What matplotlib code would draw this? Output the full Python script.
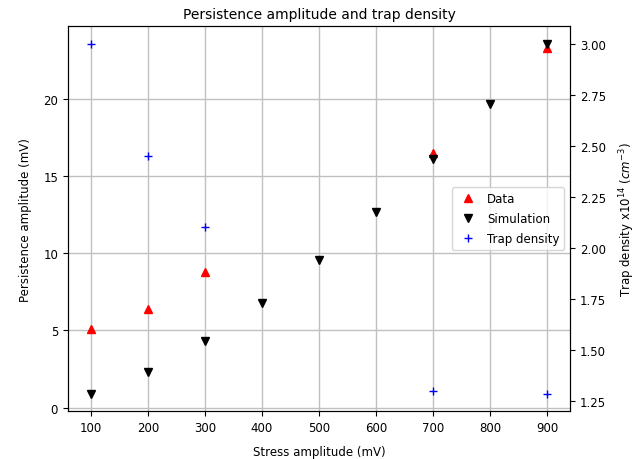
import matplotlib
matplotlib.use('Agg')
import matplotlib.pyplot as plt

# stress amplitude (mV)
stress_data = [100, 200, 300, 700, 900]
persist_data = [5.1, 6.4, 8.8, 16.5, 23.3]

stress_sim = [100, 200, 300, 400, 500, 600, 700, 800, 900]
persist_sim = [0.9, 2.3, 4.3, 6.8, 9.6, 12.7, 16.1, 19.7, 23.6]

stress_trap = [100, 200, 300, 700, 900]
trap_density = [3.0, 2.45, 2.10, 1.30, 1.285]

plt.rcParams['font.family'] = 'DejaVu Sans'

fig = plt.figure(figsize=(6.4, 4.6), dpi=100)
ax = fig.add_axes([0.106, 0.104, 0.785, 0.837])

l1, = ax.plot(stress_data, persist_data, 'r^', markersize=6, label='Data')
l2, = ax.plot(stress_sim, persist_sim, 'kv', markersize=6, label='Simulation')
ax.grid(True, color='#c0c0c0', linewidth=1)
ax.set_axisbelow(True)

ax2 = ax.twinx()
l3, = ax2.plot(stress_trap, trap_density, 'b+', markersize=6, label='Trap density')

ax.set_xticks([100, 200, 300, 400, 500, 600, 700, 800, 900])
ax2.set_yticks([1.25, 1.50, 1.75, 2.00, 2.25, 2.50, 2.75, 3.00])

ax.set_xlabel('Stress amplitude (mV)', fontsize=8.5, labelpad=8)
ax.set_ylabel('Persistence amplitude (mV)', fontsize=8.5, labelpad=8)
ax2.set_ylabel('Trap density x10$^{14}$ ($cm^{-3}$)', fontsize=8.5, labelpad=8)
ax.set_title('Persistence amplitude and trap density', fontsize=10)

ax.tick_params(labelsize=8.5)
ax2.tick_params(labelsize=8.5)

ax2.legend(handles=[l1, l2, l3], loc='center right', fontsize=8.5,
           labelspacing=0.6, handletextpad=0.6)

fig.savefig('out.png', dpi=100)
